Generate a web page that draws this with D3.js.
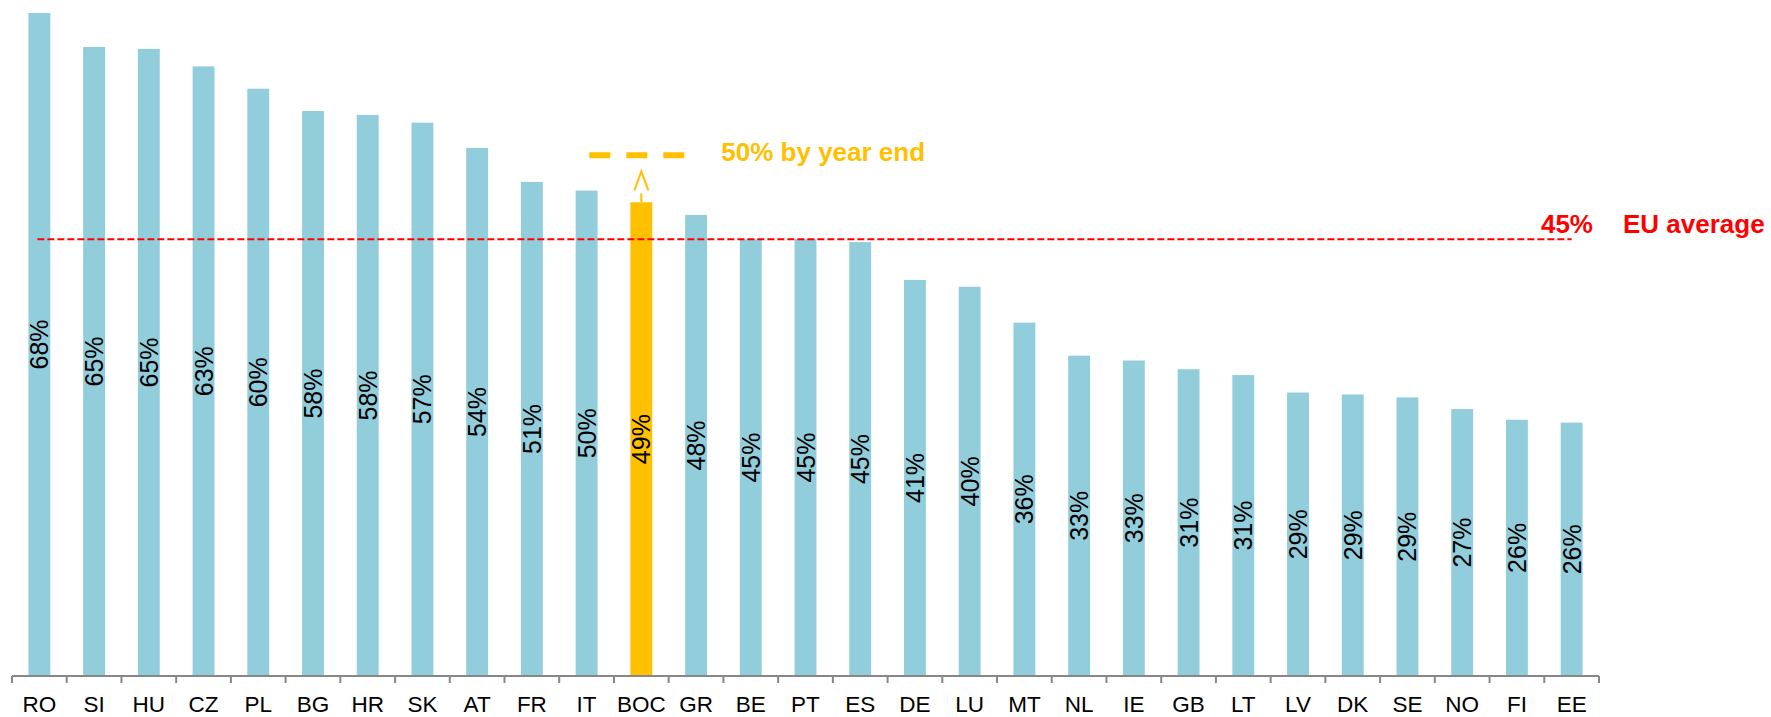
<!DOCTYPE html>
<html>
<head>
<meta charset="utf-8">
<script src="https://cdn.jsdelivr.net/npm/d3@7"></script>
<style>
  body { margin: 0; background: #fff; }
  svg { display: block; }
  text { font-family: Arial, "Liberation Sans", sans-serif; }
</style>
</head>
<body>
<svg id="vis"></svg>
<script>
// categories and values
var countries = ["RO","SI","HU","CZ","PL","BG","HR","SK","AT","FR","IT","BOC","GR","BE","PT","ES","DE","LU","MT","NL","IE","GB","LT","LV","DK","SE","NO","FI","EE"];
var shares = [68.3,64.8,64.6,62.8,60.5,58.2,57.8,57.0,54.4,50.9,50.0,48.8,47.5,45.0,45.0,44.7,40.8,40.1,36.4,33.0,32.5,31.6,31.0,29.2,29.0,28.7,27.5,26.4,26.1];
var shareLabels = ["68%","65%","65%","63%","60%","58%","58%","57%","54%","51%","50%","49%","48%","45%","45%","45%","41%","40%","36%","33%","33%","31%","31%","29%","29%","29%","27%","26%","26%"];
var highlight = "BOC";
var euAverage = 45;
var euLabel = "45%";
var euText = "EU average";
var targetText = "50% by year end";

var width = 1771;
var height = 717;

var blue = "#92cddc";
var orange = "#ffc000";

var svg = d3.select("#vis").attr("width", width).attr("height", height);

var x = d3.scaleBand()
    .domain(countries)
    .range([12, 1599])
    .paddingInner(0.6)
    .paddingOuter(0.3);

var y = d3.scaleLinear()
    .domain([0, 68.3])
    .range([676, 13]);

var data = countries.map(function(c, i){
    return {name: c, value: shares[i], label: shareLabels[i]};
});

//bars
svg.append("g").selectAll("rect")
    .data(data)
    .enter()
    .append("rect")
    .attr("x", function(d){ return x(d.name); })
    .attr("y", function(d){ return y(d.value); })
    .attr("width", x.bandwidth())
    .attr("height", function(d){ return y(0) - y(d.value); })
    .attr("fill", function(d){ return d.name == highlight ? orange : blue; });

//value labels, rotated inside the bars
svg.append("g").selectAll("text")
    .data(data)
    .enter()
    .append("text")
    .attr("transform", function(d){
        var cx = x(d.name) + x.bandwidth()/2;
        var cy = (y(d.value) + y(0))/2;
        return "translate(" + cx + "," + cy + ") rotate(-90)";
    })
    .attr("text-anchor", "middle")
    .attr("dy", "0.36em")
    .style("font-size", "25px")
    .style("fill", "#000")
    .text(function(d){ return d.label; });

//category axis: line, ticks at band edges, labels
var axis = svg.append("g");
var step = x.step();
var x0 = x.range()[0];
axis.append("line")
    .attr("x1", x0).attr("x2", x.range()[1])
    .attr("y1", y(0)).attr("y2", y(0))
    .attr("stroke", "#878787").attr("stroke-width", 2);
axis.selectAll("line.tick")
    .data(d3.range(countries.length + 1))
    .enter()
    .append("line")
    .attr("class", "tick")
    .attr("x1", function(i){ return x0 + i*step; })
    .attr("x2", function(i){ return x0 + i*step; })
    .attr("y1", y(0)).attr("y2", y(0) + 7)
    .attr("stroke", "#878787").attr("stroke-width", 2);
axis.selectAll("text")
    .data(countries)
    .enter()
    .append("text")
    .attr("x", function(d){ return x(d) + x.bandwidth()/2; })
    .attr("y", 712)
    .attr("text-anchor", "middle")
    .style("font-size", "22.5px")
    .style("fill", "#000")
    .text(function(d){ return d; });

//EU average line
var first = countries[0], last = countries[countries.length - 1];
svg.append("line")
    .attr("x1", x(first) + x.bandwidth()/2 - 2)
    .attr("x2", x(last) + x.bandwidth()/2)
    .attr("y1", y(euAverage)).attr("y2", y(euAverage))
    .attr("stroke", "#ff0000")
    .attr("stroke-width", 2)
    .attr("stroke-dasharray", "7,3");
svg.append("text")
    .attr("x", 1593)
    .attr("y", y(euAverage) - 6)
    .attr("text-anchor", "end")
    .style("font-size", "26px")
    .style("font-weight", "bold")
    .style("fill", "#ff0000")
    .text(euLabel);
svg.append("text")
    .attr("x", 1623)
    .attr("y", y(euAverage) - 6)
    .style("font-size", "26px")
    .style("font-weight", "bold")
    .style("fill", "#ff0000")
    .text(euText);

//year end target annotation over the highlighted bar
var hi = data[countries.indexOf(highlight)];
var hx = x(hi.name) + x.bandwidth()/2;
var hy = y(hi.value);
var ann = svg.append("g");
ann.append("line")
    .attr("x1", hx - 52).attr("x2", hx + 44)
    .attr("y1", hy - 47).attr("y2", hy - 47)
    .attr("stroke", orange)
    .attr("stroke-width", 6)
    .attr("stroke-dasharray", "21,16");
ann.append("line")
    .attr("x1", hx).attr("x2", hx)
    .attr("y1", hy).attr("y2", hy - 9)
    .attr("stroke", orange).attr("stroke-width", 2);
ann.append("polyline")
    .attr("points", [[hx - 7, hy - 12], [hx, hy - 31], [hx + 7, hy - 12]].join(" "))
    .attr("fill", "none")
    .attr("stroke", orange).attr("stroke-width", 2);
ann.append("text")
    .attr("x", hx + 80)
    .attr("y", hy - 41)
    .style("font-size", "26px")
    .style("font-weight", "bold")
    .style("fill", orange)
    .text(targetText);
</script>
</body>
</html>
